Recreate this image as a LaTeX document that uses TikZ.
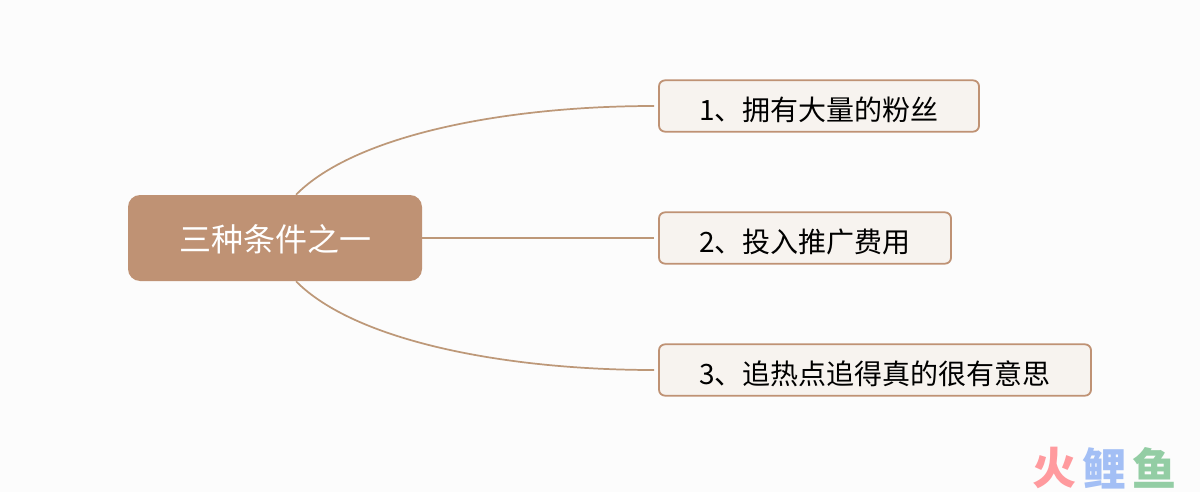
\documentclass[tikz,border=0pt]{standalone}
\usepackage{fontspec}
\newfontfamily\cjk{Noto Sans CJK SC}
\definecolor{brownmain}{HTML}{BF9274}
\definecolor{linkbrown}{HTML}{BD9878}
\definecolor{boxfill}{HTML}{F7F3EF}
\definecolor{pagebg}{HTML}{FCFCFC}
\definecolor{wmred}{HTML}{FF9A9E}
\definecolor{wmblue}{HTML}{A3BFF5}
\definecolor{wmgreen}{HTML}{93CDA4}
\tikzset{
  rootbox/.style={fill=brownmain,draw=none,rounded corners=9pt,minimum width=220.5pt,minimum height=64.5pt,inner sep=0pt,text=white,text height=20pt,text depth=0pt,font=\cjk\fontsize{24}{24}\selectfont},
  leafbox/.style={fill=boxfill,draw=brownmain,line width=1.35pt,rounded corners=4.5pt,minimum height=38.5pt,inner sep=0pt,text=black,text height=21pt,text depth=0pt,font=\cjk\fontsize{21}{21}\selectfont},
  link/.style={draw=linkbrown,line width=1.3pt,shorten >=3pt},
  wm/.style={inner sep=0pt,font=\cjk\bfseries\fontsize{33}{33}\selectfont}
}
\begin{document}
\begin{tikzpicture}[x=0.75pt,y=-0.75pt]
\useasboundingbox (0,0) rectangle (1200,492);
\fill[pagebg] (0,0) rectangle (1200,492);
\node[rootbox] (root) at (275,238) {三种条件之一};
\node[leafbox,minimum width=240pt] (b1) at (819,106) {1、拥有大量的粉丝};
\node[leafbox,minimum width=219pt] (b2) at (805,238) {2、投入推广费用};
\node[leafbox,minimum width=324pt] (b3) at (875,370) {3、追热点追得真的很有意思};
\draw[link] ([xshift=15.75pt]root.north) .. controls (355,135) and (505,106) .. (b1.west);
\draw[link] (root.east) -- (b2.west);
\draw[link] ([xshift=15.75pt]root.south) .. controls (355,341) and (505,370) .. (b3.west);
\node[wm,text=wmred] (w1) at (1054,468) {火};
\node[wm,text=wmblue] (w2) at (1104,468) {鲤};
\node[wm,text=wmgreen] (w3) at (1154,468) {鱼};
\end{tikzpicture}
\end{document}
